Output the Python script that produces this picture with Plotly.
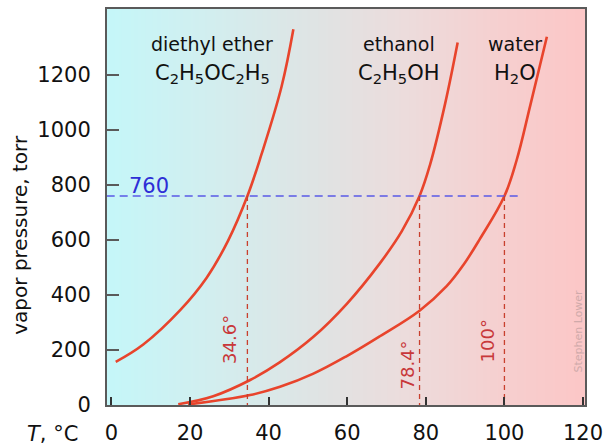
import numpy as np
import plotly.graph_objects as go

# Vapor-pressure curves (temperature in °C, pressure in torr)
ether_T = [1.1, 8.1, 17.5, 24.2, 29.7, 34.6, 38.2, 43.3, 46.3]
ether_P = [157, 220, 345, 462, 598, 760, 912, 1158, 1366]

ethanol_T = [17.0, 25.9, 35.3, 42.8, 51.4, 59.9, 68.3, 73.9, 78.4, 81.1, 84.9, 88.1]
ethanol_P = [3, 32, 91, 155, 248, 368, 515, 632, 760, 875, 1095, 1318]

water_T = [19.5, 35.3, 42.9, 51.4, 59.9, 68.3, 78.4, 85.3, 89.5, 93.8, 100.0, 103.1, 106.5, 110.8]
water_P = [2, 36, 66, 114, 178, 250, 343, 432, 508, 605, 760, 890, 1085, 1339]

# Normal boiling points and the 1-atm reference line
boiling_T = [34.6, 78.4, 100.0]
boiling_labels = ["34.6°", "78.4°", "100°"]
boiling_label_P = [240, 145, 233]
atm_P = 760
atm_line_T = [-1.2, 104.5]

x_ticks = [0, 20, 40, 60, 80, 100, 120]
y_ticks = [0, 200, 400, 600, 800, 1000, 1200]

X_RANGE = [-1.12, 120.5]
Y_RANGE = [0, 1440]

CURVE = "#e8442c"
DASH_RED = "#c8402e"
LABEL_RED = "#c8383a"
AXIS = "#5a5a5a"
FONT = "DejaVu Sans"

fig = go.Figure()

# Cool-to-warm background wash across the plot area
gx = np.linspace(X_RANGE[0] - 1, X_RANGE[1] + 1, 240)
gz = [gx.tolist(), gx.tolist()]
fig.add_trace(go.Heatmap(
    x=gx, y=Y_RANGE, z=gz,
    colorscale=[[0.0, "#c4f7f9"], [0.22, "#d2eeef"], [0.45, "#e0e3e3"],
                [0.62, "#ecdcdc"], [0.82, "#f6cfcf"], [1.0, "#fcc6c6"]],
    showscale=False, hoverinfo="skip", zsmooth="best",
))

for T, P in [(ether_T, ether_P), (ethanol_T, ethanol_P), (water_T, water_P)]:
    fig.add_trace(go.Scatter(
        x=T, y=P, mode="lines",
        line=dict(color=CURVE, width=2.6, shape="spline", smoothing=1.1),
        hoverinfo="skip",
    ))

# 760 torr reference
fig.add_trace(go.Scatter(
    x=atm_line_T, y=[atm_P, atm_P], mode="lines",
    line=dict(color="#5a5ae6", width=1.5, dash="8px,5px"),
    hoverinfo="skip",
))

# Drop lines from each boiling point to the temperature axis
for bt in boiling_T:
    fig.add_trace(go.Scatter(
        x=[bt, bt], y=[atm_P, 0], mode="lines",
        line=dict(color=DASH_RED, width=1.3, dash="5px,4px"),
        hoverinfo="skip",
    ))

annotations = []
for bt, lab, lp, dx in zip(boiling_T, boiling_labels, boiling_label_P, [-4.7, -3.1, -4.3]):
    annotations.append(dict(
        x=bt + dx, y=lp, text=lab, showarrow=False, textangle=-90,
        font=dict(family=FONT, size=18, color=LABEL_RED),
        xanchor="center", yanchor="middle",
    ))

annotations.append(dict(
    x=9.6, y=796, text=str(atm_P), showarrow=False,
    font=dict(family=FONT, size=21, color="#2e2ed6"),
    xanchor="center", yanchor="middle",
))

# Substance names and formulas
names = [
    (25.6, "diethyl ether", "C<sub>2</sub>H<sub>5</sub>OC<sub>2</sub>H<sub>5</sub>"),
    (73.2, "ethanol", "C<sub>2</sub>H<sub>5</sub>OH"),
    (102.6, "water", "H<sub>2</sub>O"),
]
for nx, name, formula in names:
    annotations.append(dict(
        x=nx, y=1312, text=name, showarrow=False,
        font=dict(family=FONT, size=19, color="#111111"),
        xanchor="center", yanchor="middle",
    ))
    annotations.append(dict(
        x=nx, y=1205, text=formula, showarrow=False,
        font=dict(family=FONT, size=21, color="#111111"),
        xanchor="center", yanchor="middle",
    ))

annotations.append(dict(
    x=118.6, y=269, text="Stephen Lower", showarrow=False, textangle=-90,
    font=dict(family=FONT, size=11, color="#cfaaaa"),
    xanchor="center", yanchor="middle",
))

# Axis titles
annotations.append(dict(
    xref="paper", yref="paper", x=-0.182, y=0.43,
    text="vapor pressure, torr", showarrow=False, textangle=-90,
    font=dict(family=FONT, size=20, color="#111111"),
    xanchor="center", yanchor="middle",
))
annotations.append(dict(
    xref="paper", yref="paper", x=-0.115, y=-0.072,
    text="<i>T</i>, °C", showarrow=False,
    font=dict(family=FONT, size=21, color="#111111"),
    xanchor="center", yanchor="middle",
))

fig.update_layout(
    width=615, height=448,
    margin=dict(l=107, r=30, t=9, b=43, autoexpand=False),
    paper_bgcolor="white", plot_bgcolor="white",
    showlegend=False,
    annotations=annotations,
    font=dict(family=FONT, color="#111111"),
)
fig.update_xaxes(
    range=X_RANGE, tickvals=x_ticks, ticktext=[str(v) for v in x_ticks],
    ticks="inside", ticklen=8, tickwidth=1.6, tickcolor="#333333",
    showline=True, linecolor=AXIS, linewidth=2, mirror=True,
    showgrid=False, zeroline=False, automargin=False,
    tickfont=dict(family=FONT, size=21, color="#111111"),
    ticklabelstandoff=8,
)
fig.update_yaxes(
    range=Y_RANGE, tickvals=y_ticks, ticktext=[str(v) for v in y_ticks],
    ticks="inside", ticklen=12, tickwidth=1.6, tickcolor=AXIS,
    showline=True, linecolor=AXIS, linewidth=2, mirror=True,
    showgrid=False, zeroline=False, automargin=False,
    tickfont=dict(family=FONT, size=21, color="#111111"),
    ticklabelstandoff=10,
)

fig.write_html("out.html")
